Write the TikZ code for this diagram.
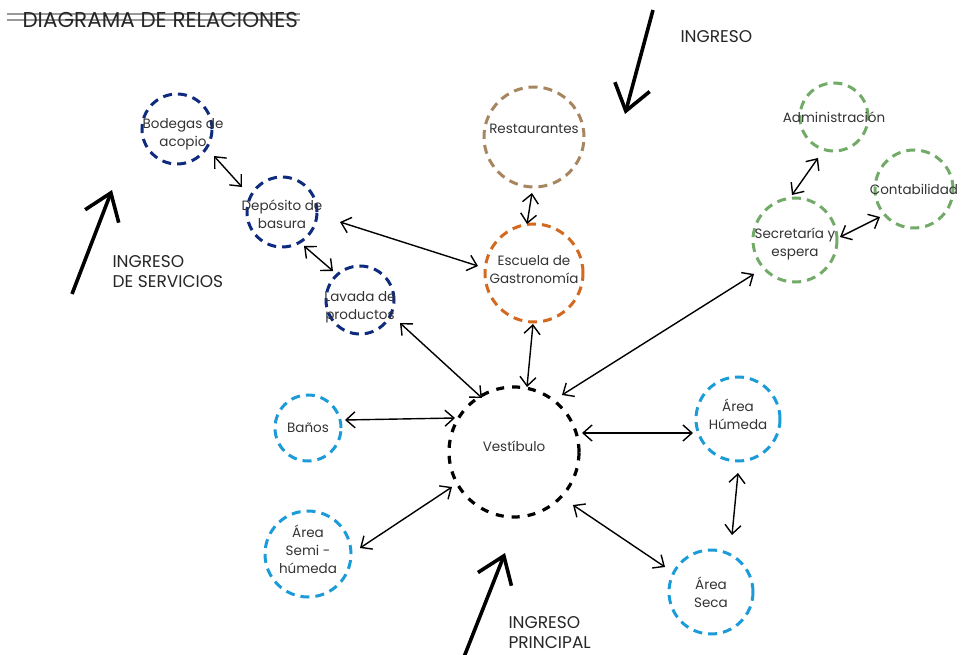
\documentclass[tikz,border=0pt]{standalone}
\usepackage{fontspec}
\setmainfont{Poppins}
\usetikzlibrary{arrows.meta,calc}
\definecolor{azul}{HTML}{0F2B7D}
\definecolor{cafe}{HTML}{A6855F}
\definecolor{naranja}{HTML}{D2691E}
\definecolor{verde}{HTML}{72AB67}
\definecolor{celeste}{HTML}{1C9BD9}
\tikzset{zona/.style={circle, line width=3pt, dash pattern=on 9pt off 6pt, inner sep=0pt},
  texto/.style={font=\fontsize{13.5}{18}\selectfont, align=center, text=black!80, inner sep=0pt},
  rel/.style={{Straight Barb[length=9pt,width=16pt]}-{Straight Barb[length=9pt,width=16pt]}, line width=1.4pt},
  ingreso/.style={-{Straight Barb[length=25pt,width=36pt]}, line width=3.6pt},
  rotulo/.style={font=\fontsize{17}{20}\selectfont, align=left, anchor=west, text=black!85}}

\begin{document}
\begin{tikzpicture}[x=1pt, y=-1pt]
  \useasboundingbox (0,0) rectangle (964,655);
  % title
  \draw[line width=2.8pt, black!40] (7,14) -- (300,14) (7,20) -- (300,20);
  \node[anchor=base west, font=\fontsize{21.5}{24}\selectfont, text=black!85] (titulo) at (19,28) {DIAGRAMA DE RELACIONES};
  % service zone
  \node[zona, draw=azul, minimum size=70, label={[texto, xshift=6pt, yshift=-5pt]center:{Bodegas de\\acopio}}] (bod) at (177,129) {};
  \node[zona, draw=azul, minimum size=70, label={[texto, yshift=-2pt]center:{Depósito de\\basura}}] (dep) at (282,212) {};
  \node[zona, draw=azul, minimum size=68, label={[texto, yshift=-7pt]center:{Lavada de\\productos}}] (lav) at (360,300) {};
  % school
  \node[zona, draw=cafe, minimum size=100, label={[texto, yshift=8pt]center:Restaurantes}] (res) at (534,137) {};
  \node[zona, draw=naranja, minimum size=98, label={[texto, yshift=3pt]center:{Escuela de\\Gastronomía}}] (esc) at (534,273) {};
  \node[zona, draw=black, line width=3.2pt, dash pattern=on 8pt off 8pt, minimum size=130, label={[texto, yshift=6pt]center:Vestíbulo}] (ves) at (514,452) {};
  % administration
  \node[zona, draw=verde, minimum size=68, label={[texto]center:Administración}] (adm) at (834,117) {};
  \node[zona, draw=verde, minimum size=78, label={[texto]center:Contabilidad}] (con) at (914,189) {};
  \node[zona, draw=verde, minimum size=84, label={[texto, yshift=-4pt]center:{Secretaría y\\espera}}] (sec) at (795,240) {};
  % services and areas
  \node[zona, draw=celeste, minimum size=66, label={[texto]center:Baños}] (ban) at (308,428) {};
  \node[zona, draw=celeste, minimum size=86, label={[texto, yshift=5pt]center:{Área\\Semi -\\húmeda}}] (sem) at (308,554) {};
  \node[zona, draw=celeste, minimum size=84, label={[texto, yshift=5pt]center:{Área\\Húmeda}}] (hum) at (738,419) {};
  \node[zona, draw=celeste, minimum size=84, label={[texto]center:{Área\\Seca}}] (sea) at (711,592) {};
  % relations
  \draw[rel] ($(bod)+(37,27)$) -- ($(dep)+(-40,-25)$);
  \draw[rel] ($(dep)+(22,34)$) -- ($(lav)+(-27,-29)$);
  \draw[rel] ($(dep)+(58,10)$) -- ($(esc)+(-56,-7)$);
  \draw[rel] ($(res)+(-2,56)$) -- ($(esc)+(-7,-49)$);
  \draw[rel] ($(lav)+(40,23)$) -- ($(ves)+(-32,-54)$);
  \draw[rel] ($(esc)+(-1,51)$) -- ($(ves)+(13,-65)$);
  \draw[rel] ($(sec)+(-41,34)$) -- ($(ves)+(48,-57)$);
  \draw[rel] ($(ban)+(37,-8)$) -- ($(ves)+(-59,-34)$);
  \draw[rel] ($(sem)+(52,-6)$) -- ($(ves)+(-62,35)$);
  \draw[rel] ($(ves)+(68,-19)$) -- ($(hum)+(-45,14)$);
  \draw[rel] ($(ves)+(59,53)$) -- ($(sea)+(-46,-25)$);
  \draw[rel] ($(hum)+(0,54)$) -- ($(sea)+(21,-57)$);
  \draw[rel] ($(adm)+(-16,41)$) -- ($(sec)+(-3,-45)$);
  \draw[rel] ($(sec)+(45,-3)$) -- ($(con)+(-34,28)$);
  % entrances
  \coordinate (e1) at (653,10);
  \coordinate (e2) at (72,294);
  \coordinate (e3) at (462,662);
  \draw[ingreso] (e1) -- (625,114);
  \draw[ingreso] (e2) -- (112,190);
  \draw[ingreso] (e3) -- (505,553);
  \node[rotulo] (l1) at (677,37) {INGRESO};
  \node[rotulo] (l2) at (109,272) {INGRESO\\DE SERVICIOS};
  \node[rotulo] (l3) at (505,633) {INGRESO\\PRINCIPAL};
\end{tikzpicture}
\end{document}
